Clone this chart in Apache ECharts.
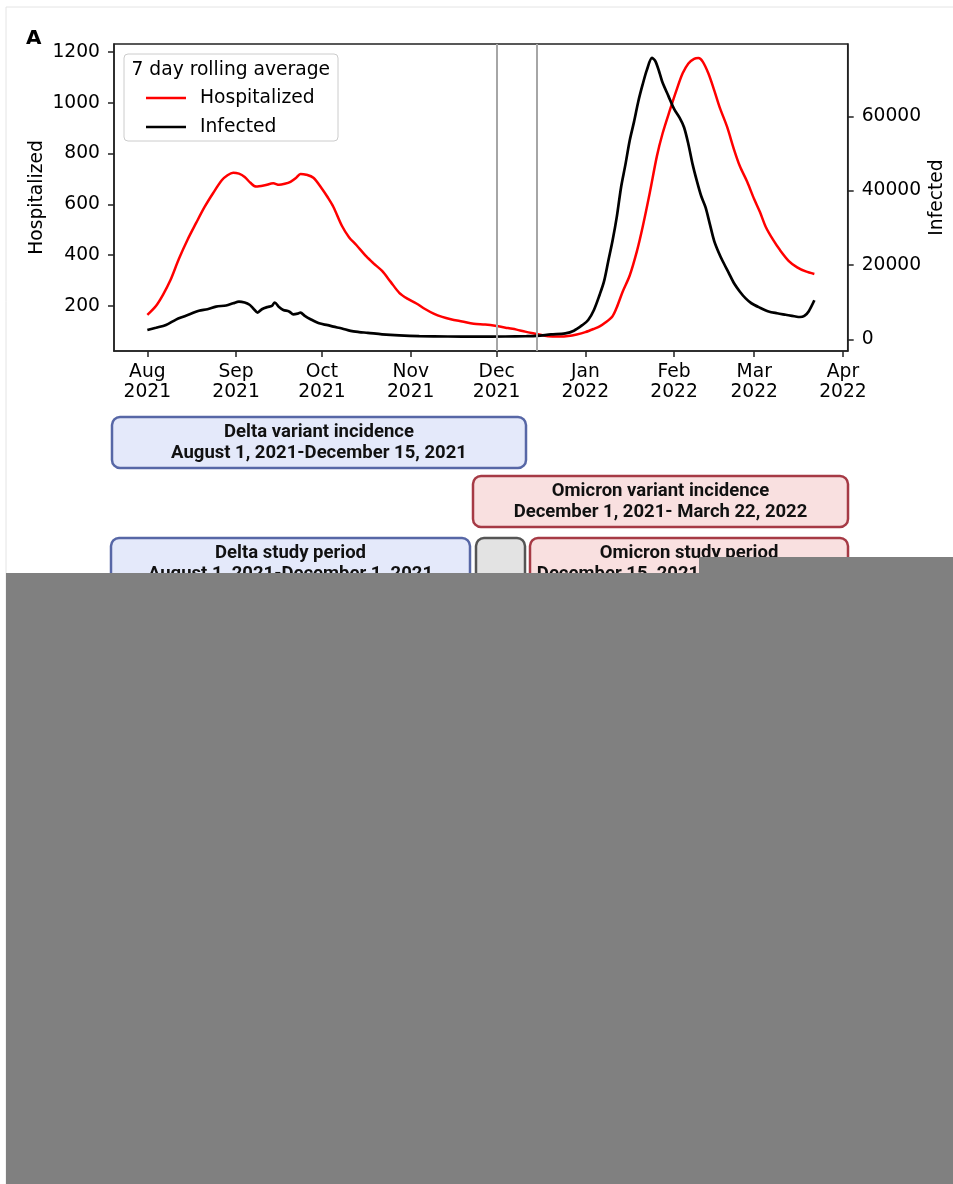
<!DOCTYPE html>
<html>
<head>
<meta charset="utf-8">
<script src="https://cdn.jsdelivr.net/npm/echarts@6/dist/echarts.min.js"></script>
<style>
html,body{margin:0;padding:0;background:#fff;}
#chart{width:953px;height:1184px;}
</style>
</head>
<body>
<div id="chart"></div>
<script>
// x values are days since August 1, 2021
const monthTickDays = [0, 31, 61, 92, 122, 153, 184, 212, 243];
const monthTickLabels = ['Aug\n2021', 'Sep\n2021', 'Oct\n2021', 'Nov\n2021', 'Dec\n2021', 'Jan\n2022', 'Feb\n2022', 'Mar\n2022', 'Apr\n2022'];
const hospTicks = [200, 400, 600, 800, 1000, 1200];
const infTicks = [0, 20000, 40000, 60000];
const periodLineDays = [122, 136]; // Dec 1, Dec 15 2021

const hospDay = [0, 3, 5.5, 8, 11, 14, 17, 20, 23, 26, 28, 30, 32, 34, 36, 38, 41, 44, 46, 48, 50, 52, 53.5, 55.5, 58, 61, 63, 65, 68, 70.5, 73, 76.5, 79, 82, 85, 88, 91, 94, 97, 100, 103, 106, 110, 114, 118, 122, 126, 129, 132, 136, 140, 144, 147, 150, 153, 156, 158, 160, 162.5, 164, 166, 168.5, 171, 173, 175.5, 178, 180, 182.5, 185, 187, 189, 191, 192.5, 194, 196, 198, 200, 202.5, 205, 207, 209.5, 212, 214, 216, 218.5, 221, 224, 227, 230, 233];
const hospitalized = [165, 200, 245, 300, 385, 460, 526, 590, 645, 695, 715, 725, 721, 708, 685, 670, 675, 683, 677, 681, 689, 705, 720, 717, 705, 662, 628, 590, 515, 470, 440, 395, 368, 338, 295, 252, 228, 210, 188, 170, 157, 148, 139, 130, 127, 121, 113, 107, 99, 90, 81, 80, 82, 88, 97, 110, 120, 135, 160, 195, 255, 320, 415, 510, 645, 790, 880, 970, 1055, 1116, 1155, 1173, 1176, 1162, 1115, 1050, 980, 906, 814, 750, 690, 620, 570, 512, 462, 420, 378, 352, 336, 326];

const infDay = [0, 3, 6.5, 10, 12.5, 15, 18, 21, 24, 27.5, 30, 32, 34, 35.7, 37, 38.5, 40, 42, 43.5, 44.5, 46, 47.5, 49.5, 51, 52.5, 53.5, 55, 57, 60, 63, 65, 68, 71, 74, 77, 82, 88, 95, 105, 115, 125, 132, 136, 141, 146, 149, 152, 154, 156, 158, 159.5, 161, 162.5, 164, 165.5, 167, 168.5, 170, 171.5, 173, 174.5, 176.3, 177.5, 179, 180, 182, 184, 186, 187.5, 189, 190.5, 192, 193.5, 195, 196.5, 198, 199.5, 201, 203, 205, 207, 209, 211, 214, 217, 220, 223, 226, 228, 229.5, 231, 233];
const infected = [2500, 3100, 3850, 5300, 6080, 6800, 7700, 8100, 8800, 9100, 9700, 10150, 9900, 9300, 8300, 7200, 8100, 8700, 9000, 9900, 8700, 7900, 7500, 6700, 6900, 7200, 6300, 5400, 4300, 3800, 3400, 2900, 2250, 1950, 1750, 1350, 1050, 850, 750, 720, 750, 820, 900, 1300, 1600, 2300, 3850, 5200, 7900, 12000, 15500, 21000, 26500, 33000, 41000, 47000, 53500, 58500, 64000, 68500, 72500, 75700, 74800, 71500, 69000, 65500, 62000, 59500, 57000, 52500, 47000, 42500, 38500, 35500, 31000, 26500, 23500, 21000, 18000, 15000, 12800, 11000, 9700, 8500, 7500, 7000, 6600, 6200, 6000, 6300, 7500, 10500];

const legendTitle = '7 day rolling average';
const boxTexts = {
  deltaInc: ['Delta variant incidence', 'August 1, 2021-December 15, 2021'],
  omiInc: ['Omicron variant incidence', 'December 1, 2021- March 22, 2022'],
  deltaStudy: ['Delta study period', 'August 1, 2021-December 1, 2021'],
  omiStudy: ['Omicron study period', 'December 15, 2021- March 22, 2022']
};

const zip = (xs, ys) => xs.map((x, i) => [x, ys[i]]);
const FONT = 'DejaVu Sans';
const BOXFONT = 'Roboto';
const FS = 18.7;

function box(x, y, w, h, fill, stroke, lines, ly) {
  const els = [{
    type: 'rect', shape: {x: x, y: y, width: w, height: h, r: 8},
    style: {fill: fill, stroke: stroke, lineWidth: 2.5}, z: 1
  }];
  lines.forEach((t, i) => {
    els.push({
      type: 'text', x: x + w / 2, y: ly[i], z: 2,
      style: {text: t, fill: '#111', font: 'bold 18.5px ' + BOXFONT, textAlign: 'center', textVerticalAlign: 'middle'}
    });
  });
  return els;
}

const graphics = [].concat(
  [{type: 'rect', shape: {x: 6, y: 7, width: 960, height: 1200}, style: {fill: 'none', stroke: '#e4e4e4', lineWidth: 1}, z: 0}],
  [{type: 'text', x: 26, y: 39, style: {text: 'A', fill: '#000', font: 'bold 20px ' + FONT, textVerticalAlign: 'middle'}}],
  [{type: 'rect', shape: {x: 124, y: 54, width: 214, height: 87, r: 4}, style: {fill: 'rgba(255,255,255,0.85)', stroke: '#cccccc', lineWidth: 1}, z: 3}],
  [{type: 'text', x: 131.5, y: 70, z: 5, style: {text: legendTitle, fill: '#000', font: FS + 'px ' + FONT, textVerticalAlign: 'middle'}}],
  box(112, 417, 414, 51, '#e4e9fa', '#5767a6', boxTexts.deltaInc, [432, 453]),
  box(473, 476, 375, 51, '#f9e0e0', '#a63a45', boxTexts.omiInc, [491, 512]),
  box(111, 538, 359, 62, '#e4e9fa', '#5767a6', boxTexts.deltaStudy, [553, 574]),
  box(476, 538, 49, 62, '#e3e3e3', '#555555', [], []),
  box(530, 538, 318, 62, '#f9e0e0', '#a63a45', boxTexts.omiStudy, [553, 574]),
  [{type: 'polygon', z: 10, shape: {points: [[699, 557], [953, 557], [953, 1184], [6, 1184], [6, 573], [699, 573]]}, style: {fill: '#808080'}}]
);

const tickStyle = {color: '#222', width: 1.5};
const lineStyleAxis = {show: true, onZero: false, lineStyle: {color: '#222', width: 1.5}};

const chart = echarts.init(document.getElementById('chart'), null, {renderer: 'canvas'});
chart.setOption({
  backgroundColor: '#fff',
  animation: false,
  textStyle: {fontFamily: FONT},
  grid: {left: 114, top: 44, width: 733.7, height: 307, show: true, borderColor: '#222', borderWidth: 1.5,
         backgroundColor: 'transparent', containLabel: false, outerBoundsMode: 'none'},
  legend: {
    left: 146, top: 88.5, orient: 'vertical', itemGap: 10, padding: 0,
    itemWidth: 40, itemHeight: 2.5,
    textStyle: {fontFamily: FONT, fontSize: FS, color: '#000', padding: [0, 0, 0, 9]},
    data: [{name: 'Hospitalized', icon: 'rect'}, {name: 'Infected', icon: 'rect'}],
    z: 6
  },
  xAxis: {
    type: 'value', min: -11.65, max: 244.65,
    splitLine: {show: false},
    axisLine: lineStyleAxis,
    axisTick: {show: true, customValues: monthTickDays, length: 6, lineStyle: tickStyle},
    axisLabel: {
      customValues: monthTickDays, margin: 11, color: '#000', fontSize: FS, fontFamily: FONT, lineHeight: 20,
      formatter: v => monthTickLabels[monthTickDays.indexOf(v)]
    }
  },
  yAxis: [{
    type: 'value', min: 22.8, max: 1231.5, position: 'left',
    name: 'Hospitalized', nameLocation: 'middle', nameGap: 67, nameRotate: 90, nameMoveOverlap: false,
    nameTextStyle: {fontSize: FS, color: '#000', fontFamily: FONT},
    splitLine: {show: false},
    axisLine: lineStyleAxis,
    axisTick: {show: true, customValues: hospTicks, length: 6, lineStyle: tickStyle},
    axisLabel: {customValues: hospTicks, margin: 14, color: '#000', fontSize: FS, fontFamily: FONT, formatter: v => String(v)}
  }, {
    type: 'value', min: -3148, max: 79456, position: 'right',
    name: 'Infected', nameLocation: 'middle', nameGap: 80, nameRotate: 90, nameMoveOverlap: false,
    nameTextStyle: {fontSize: FS, color: '#000', fontFamily: FONT},
    splitLine: {show: false},
    axisLine: lineStyleAxis,
    axisTick: {show: true, customValues: infTicks, length: 6, lineStyle: tickStyle},
    axisLabel: {customValues: infTicks, margin: 14, color: '#000', fontSize: FS, fontFamily: FONT, formatter: v => String(v)}
  }],
  series: [{
    name: 'Hospitalized', type: 'line', yAxisIndex: 0,
    data: zip(hospDay, hospitalized), showSymbol: false, smooth: 0.3,
    lineStyle: {color: '#ff0000', width: 2.5}, itemStyle: {color: '#ff0000'}, z: 3,
    markLine: {
      silent: true, symbol: ['none', 'none'], label: {show: false},
      lineStyle: {color: '#a6a6a6', width: 2, type: 'solid'},
      data: periodLineDays.map(d => ({xAxis: d}))
    }
  }, {
    name: 'Infected', type: 'line', yAxisIndex: 1,
    data: zip(infDay, infected), showSymbol: false, smooth: 0.3,
    lineStyle: {color: '#000000', width: 2.7}, itemStyle: {color: '#000000'}, z: 3
  }],
  graphic: {elements: graphics}
});
</script>
</body>
</html>
